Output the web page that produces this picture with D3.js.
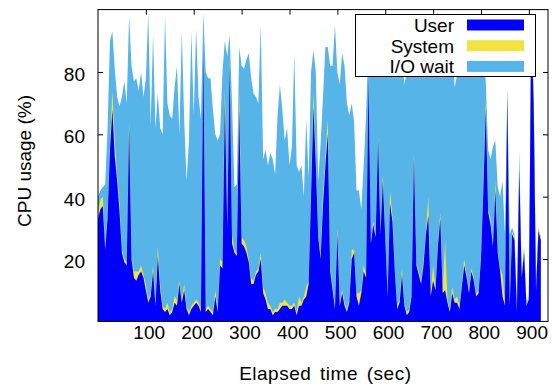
<!DOCTYPE html>
<html><head><meta charset="utf-8">
<script src="https://cdn.jsdelivr.net/npm/d3@7"></script>
<style>
html,body{margin:0;padding:0;background:#fff;}
svg text{font-family:"Liberation Sans",Arial,Helvetica,sans-serif;fill:#000;}
</style></head>
<body><svg id="c" width="554" height="385"></svg>
<script>
// sample interval (sec) of the series below, starting at t = 0
const stepSec = 5;
const user = [33,36,37,23,33,55,68,53,45,35,22,19,18,62,20,14,13,15,16,14,10,6,8,16,5,21,10,4,3,4,2,3,6,5,12,6,10,4,2,4,5,6,5,3,87,3,4,3,2,8,3,18,17,70,30,82,25,22,21,68,25,24,22,19,12,12,15,16,20,9,7,4,4,2,3,3,4,5,5,5,4,4,5,2,5,5,7,8,12,40,69,50,27,20,37,50,60,16,10,4,28,5,9,5,3,6,20,22,8,5,9,16,14,78,25,31,27,58,28,45,27,8,38,32,16,4,6,15,5,2,3,8,52,18,15,12,18,28,34,8,13,10,24,33,9,10,6,3,9,6,6,4,11,18,14,9,16,13,8,9,20,42,68,35,31,24,42,22,16,8,5,73,5,28,26,3,49,14,22,5,7,96,70,10,29,26];
const system = [2,3,3,1,1,2,6,5,2,3,1,1,1,2,1,2,3,1,2,1,2,1,1,2,1,3,2,1,1,2,1,1,2,2,1,1,2,1,1,1,1,1,1,1,1,1,1,1,1,2,1,2,2,5,2,2,3,1,1,6,2,2,2,1,2,1,1,1,2,2,2,2,1,1,1,1,2,1,2,1,1,1,1,1,3,1,1,3,1,3,5,3,1,1,4,3,5,2,1,1,2,1,1,1,1,1,3,1,1,4,1,2,1,1,1,1,1,1,1,2,1,1,4,2,1,1,1,2,1,1,1,1,2,1,1,1,2,1,6,1,5,1,1,2,1,16,1,1,2,1,2,1,1,2,1,1,1,1,1,1,1,1,3,1,2,1,3,1,1,7,1,2,1,1,1,1,3,1,1,0.5,0.5,1,3,1,1,1];
const iowait = [5,3,3,20,28,33,19,23,25,31,49,57,51,34,61,61,62,58,62,57,66,92,54,74,56,49,50,55,94,64,63,61,67,75,47,86,53,40,55,88,60,87,66,61,11,76,73,74,65,50,54,40,61,15,53,8,42,20,22,14,55,55,60,66,64,60,56,53,73,41,46,44,49,49,43,62,70,62,51,56,45,51,80,47,40,44,32,54,33,37,13,27,17,36,31,35,23,64,71,90,50,70,76,76,66,59,47,41,33,33,26,32,51,11,60,56,54,27,51,43,56,71,42,48,65,77,75,68,70,77,86,76,38,76,76,69,68,63,52,85,81,86,74,55,70,52,81,88,79,68,71,85,80,68,84,70,65,74,76,78,69,41,6,19,19,31,13,20,23,30,22,0,22,1,1,2,3,0,1,0.5,0.5,1,2,1,0,0];
const xTicks = [100,200,300,400,500,600,700,800,900];
const yTicks = [20,40,60,80];
const seriesNames = ["User","System","I/O wait"];
const seriesColors = ["#0000ff","#f0e442","#56b4e9"];

const svg = d3.select("#c");
const L = 98, R = 548, T = 9.6, B = 321.4;
const x = d3.scaleLinear().domain([0, 940]).range([L, R]);
const y = d3.scaleLinear().domain([0, 100]).range([B, T]);

const rows = user.map((u, i) => ({
  t: i * stepSec,
  u: u,
  us: u + system[i],
  all: u + system[i] + iowait[i]
}));

// ticks (behind the data)
const fmt = d => d;
const gx = svg.append("g").attr("transform", `translate(0,${B})`)
  .call(d3.axisBottom(x).tickValues(xTicks).tickSizeInner(-5).tickSizeOuter(0).tickPadding(4.5).tickFormat(fmt));
gx.selectAll("text").attr("dx", 2.8);
const gy = svg.append("g").attr("transform", `translate(${L},0)`)
  .call(d3.axisLeft(y).tickValues(yTicks).tickSizeInner(-5).tickSizeOuter(0).tickPadding(13).tickFormat(fmt));
gy.selectAll("text").attr("dy", "0.45em");
const gt = svg.append("g").attr("transform", `translate(0,${T})`)
  .call(d3.axisTop(x).tickValues(xTicks).tickSizeInner(-5).tickSizeOuter(0).tickFormat(""));
const gr = svg.append("g").attr("transform", `translate(${R},0)`)
  .call(d3.axisRight(y).tickValues(yTicks).tickSizeInner(-5).tickSizeOuter(0).tickFormat(""));
[gx, gy, gt, gr].forEach(g => {
  g.select(".domain").remove();
  g.selectAll("line").attr("stroke", "#000");
  g.selectAll("text").attr("font-size", 19).attr("font-family", "Liberation Sans, Arial, sans-serif").attr("fill", "#000");
});

// stacked filled curves
const clip = svg.append("clipPath").attr("id", "pc").append("rect")
  .attr("x", L).attr("y", T).attr("width", R - L).attr("height", B - T);
const plot = svg.append("g").attr("clip-path", "url(#pc)");
const layers = [["all", seriesColors[2]], ["us", seriesColors[1]], ["u", seriesColors[0]]];
layers.forEach(([k, col]) => {
  plot.append("path").datum(rows)
    .attr("fill", col)
    .attr("d", d3.area().x(d => x(d.t)).y0(y(0)).y1(d => y(Math.min(d[k], 100))));
});

// border
svg.append("rect").attr("x", L).attr("y", T).attr("width", R - L).attr("height", B - T)
  .attr("fill", "none").attr("stroke", "#000").attr("stroke-width", 1);

// axis titles
svg.append("text").attr("x", 325.3).attr("y", 380).attr("text-anchor", "middle")
  .attr("font-size", 19).attr("letter-spacing", 0.5).attr("word-spacing", 3).text("Elapsed time (sec)");
svg.append("text").attr("transform", "translate(31,161) rotate(-90)").attr("text-anchor", "middle")
  .attr("font-size", 19).text("CPU usage (%)");

// legend
const lg = svg.append("g");
lg.append("rect").attr("x", 355.5).attr("y", 14.5).attr("width", 180).attr("height", 62)
  .attr("fill", "#fff").attr("stroke", "#000").attr("stroke-width", 1);
const legendOrder = [0, 1, 2];
legendOrder.forEach((si, i) => {
  const cy = 25 + i * 20.7;
  lg.append("text").attr("x", 454).attr("y", cy + 6.8).attr("text-anchor", "end")
    .attr("font-size", 19).text(seriesNames[si]);
  lg.append("rect").attr("x", 467).attr("y", cy - 5.5).attr("width", 57).attr("height", 11)
    .attr("fill", seriesColors[si]);
});
</script></body></html>
